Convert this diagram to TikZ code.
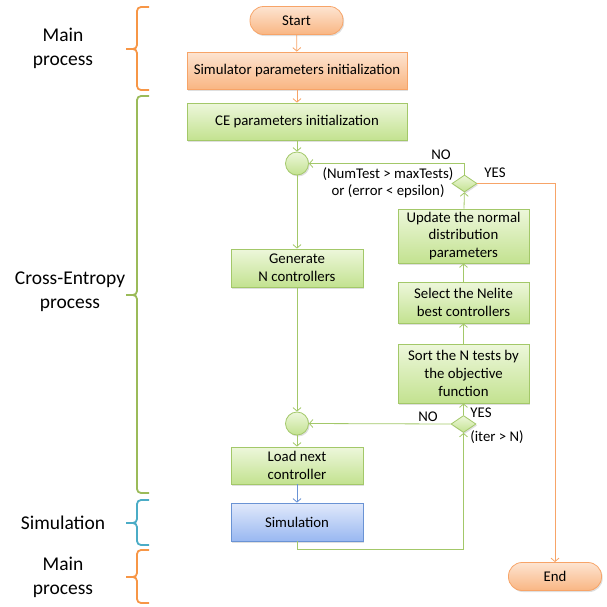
\documentclass[tikz,border=0pt]{standalone}
\usepackage{fontspec}
\setmainfont{Carlito}
\usetikzlibrary{arrows.meta,shapes.geometric,shadows}
\definecolor{grline}{HTML}{A3C869}
\definecolor{grtop}{HTML}{EDF7DB}
\definecolor{grbot}{HTML}{C3E290}
\definecolor{ortop}{HTML}{FDE4D1}
\definecolor{orbot}{HTML}{F9B683}
\definecolor{orline}{HTML}{F7A468}
\definecolor{bltop}{HTML}{E1E9FB}
\definecolor{blbot}{HTML}{99B8F1}
\definecolor{blline}{HTML}{6A93D4}
\definecolor{brgreen}{HTML}{9BBB59}
\definecolor{brorange}{HTML}{F79646}
\definecolor{brblue}{HTML}{4BACC6}
\begin{document}
\begin{tikzpicture}[x=1pt,y=-1pt,
  every node/.style={font=\fontsize{14.8}{17.7}\selectfont, inner sep=0pt, align=center},
  shad/.style={drop shadow={opacity=0.25,shadow xshift=1.2pt,shadow yshift=-1.5pt}},
  greenbox/.style={draw=grline, line width=0.8pt, top color=grtop, bottom color=grbot, shad},
  orangebox/.style={draw=orline, line width=0.8pt, top color=ortop, bottom color=orbot, shad},
  bluebox/.style={draw=blline, line width=0.8pt, top color=bltop, bottom color=blbot, shad},
  term/.style={orangebox, rounded corners=13.5pt, minimum width=93pt, minimum height=28pt},
  junction/.style={circle, greenbox, minimum size=23pt},
  decision/.style={diamond, greenbox, minimum width=25pt, minimum height=17pt},
  arr/.style={-{Straight Barb[length=3.5pt,width=8pt]}, line width=0.8pt},
  garr/.style={arr, draw=grline},
  oarr/.style={arr, draw=orline},
  barr/.style={arr, draw=blline},
  bracestyle/.style={line width=1.8pt, rounded corners=4pt},
  sidelabel/.style={font=\fontsize{19.5}{23.8}\selectfont}
]
\useasboundingbox (0,0) rectangle (607,606);

% nodes
\node[term] (start) at (296.5,20.5) {Start};
\node[orangebox, minimum width=220pt, minimum height=37pt] (simpar) at (297,70.5) {Simulator parameters initialization};
\node[greenbox, minimum width=220pt, minimum height=37pt] (cepar) at (297,121.5) {CE parameters initialization};
\node[junction] (c1) at (297,163.5) {};
\node[greenbox, minimum width=132pt, minimum height=38pt] (gen) at (297,268) {Generate\\N controllers};
\node[junction] (c2) at (297,423.5) {};
\node[greenbox, minimum width=132pt, minimum height=37pt] (load) at (297,465.5) {Load next\\controller};
\node[bluebox, minimum width=132pt, minimum height=38pt] (simu) at (297,522) {Simulation};
\node[term] (end) at (555,576.5) {End};

\node[greenbox, minimum width=131pt, minimum height=54pt] (upd) at (463.5,236) {Update the normal\\distribution\\parameters};
\node[greenbox, minimum width=131pt, minimum height=41pt] (sel) at (463.5,302.5) {Select the Nelite\\best controllers};
\node[greenbox, minimum width=131pt, minimum height=59pt] (sort) at (463.5,373.5) {Sort the N tests by\\the objective\\function};
\node[decision] (d1) at (464.5,183.5) {};
\node[decision] (d2) at (463.5,424) {};

\coordinate (simlow) at (297,549);
\coordinate (d1top) at (464.5,163.5);

% connectors
\draw[oarr] (start) -- (simpar);
\draw[oarr] (simpar) -- (cepar);
\draw[garr] (cepar) -- (c1);
\draw[garr] (c1) -- (gen);
\draw[garr] (gen) -- (c2);
\draw[garr] (c2) -- (load);
\draw[barr] (load) -- (simu);
\draw[garr] (simu.south) -- (simlow) -| (d2.south);
\draw[garr] (d2) -- (sort);
\draw[garr] (d2.west) -- (c2.east);
\draw[garr] (sort) -- (sel);
\draw[garr] (sel) -- (upd);
\draw[garr] (upd) -- (d1);
\draw[garr] (d1.north) -- (d1top) -- (c1.east);
\draw[oarr] (d1.east) -| (end.north);

% labels
\node (no1) at (441,155) {NO};
\node (cond1a) at (388,174) {(NumTest > maxTests)};
\node (cond1b) at (388,191) {or (error < epsilon)};
\node (yes1) at (495,173) {YES};
\node (no2) at (428,417) {NO};
\node (yes2) at (481,413) {YES};
\node (cond2) at (497,437) {(iter > N)};

% braces
\draw[bracestyle, draw=brorange] (149,7) -- (137,7) -- (137,49) -- (126,49);
\draw[bracestyle, draw=brorange] (126,49) -- (137,49) -- (137,90) -- (149,90);
\draw[bracestyle, draw=brgreen] (149,96) -- (137,96) -- (137,295) -- (126,295);
\draw[bracestyle, draw=brgreen] (126,295) -- (137,295) -- (137,493) -- (149,493);
\draw[bracestyle, draw=brblue] (149,500) -- (137,500) -- (137,523) -- (126,523);
\draw[bracestyle, draw=brblue] (126,523) -- (137,523) -- (137,545) -- (149,545);
\draw[bracestyle, draw=brorange] (149,550) -- (137,550) -- (137,577) -- (126,577);
\draw[bracestyle, draw=brorange] (126,577) -- (137,577) -- (137,603) -- (149,603);

\node[sidelabel] (lab1) at (63,48.5) {Main\\process};
\node[sidelabel] (lab2) at (70,292) {Cross-Entropy\\process};
\node[sidelabel] (lab3) at (63,523) {Simulation};
\node[sidelabel] (lab4) at (63,577) {Main\\process};
\end{tikzpicture}
\end{document}
